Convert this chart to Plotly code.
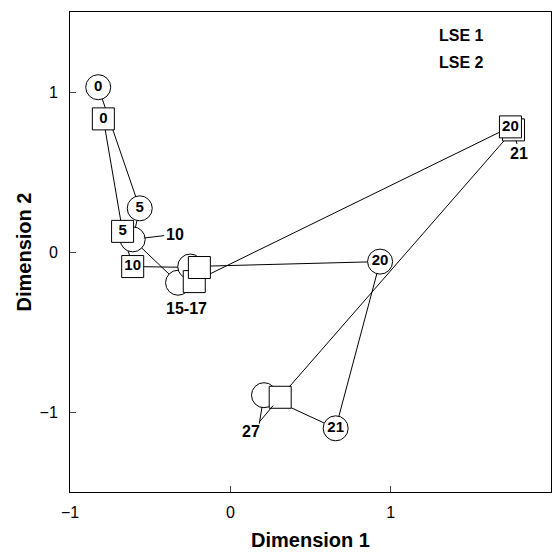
import plotly.graph_objects as go

# LSE 1 (circles) trajectory
c_time = ["0", "5", "10", "15", "17", "20", "21", "27"]
c_x = [-0.824, -0.565, -0.609, -0.326, -0.250, 0.934, 0.657, 0.210]
c_y = [1.030, 0.273, 0.079, -0.192, -0.091, -0.060, -1.102, -0.895]
c_lbl = ["0", "5", "", "", "", "20", "21", ""]

# LSE 2 (squares) trajectory
s_time = ["0", "5", "10", "15", "17", "20", "21", "27"]
s_x = [-0.792, -0.672, -0.609, -0.193, -0.225, 1.747, 1.766, 0.311]
s_y = [0.832, 0.129, -0.091, -0.097, -0.185, 0.782, 0.763, -0.908]
s_lbl = ["0", "5", "10", "", "", "20", "", ""]

FONT = "Liberation Sans, Arial, sans-serif"

fig = go.Figure()

# trajectory lines
fig.add_trace(go.Scatter(x=c_x, y=c_y, mode="lines",
                         line=dict(color="black", width=1), hoverinfo="skip", showlegend=False))
fig.add_trace(go.Scatter(x=s_x, y=s_y, mode="lines",
                         line=dict(color="black", width=1), hoverinfo="skip", showlegend=False))

# markers
fig.add_trace(go.Scatter(x=c_x, y=c_y, mode="markers+text", text=c_lbl,
                         textposition="middle center",
                         textfont=dict(family=FONT, size=15, color="black", weight="bold"),
                         marker=dict(symbol="circle", size=25, color="white",
                                     line=dict(color="black", width=1)),
                         name="LSE 1", showlegend=False))
fig.add_trace(go.Scatter(x=s_x[::-1], y=s_y[::-1], mode="markers+text", text=s_lbl[::-1],
                         textposition="middle center",
                         textfont=dict(family=FONT, size=15, color="black", weight="bold"),
                         marker=dict(symbol="square", size=22, color="white",
                                     line=dict(color="black", width=1)),
                         name="LSE 2", showlegend=False))

ann_font = dict(family=FONT, size=16, color="black", weight="bold")
arrow = dict(showarrow=True, arrowhead=0, arrowwidth=1, arrowcolor="black")
annotations = [
    dict(x=c_x[2], y=c_y[2], text="10", ax=42, ay=-5, standoff=12, font=ann_font, **arrow),
    dict(x=s_x[6], y=s_y[6], text="21", ax=6, ay=24, standoff=11, font=ann_font, **arrow),
    # "27" label with two leader lines
    dict(x=c_x[7], y=c_y[7], text="27", xshift=-13, yshift=-36, showarrow=False, font=ann_font),
    dict(x=c_x[7], y=c_y[7], text="", ax=-5, ay=30, standoff=12, **arrow),
    dict(x=s_x[7], y=s_y[7], text="", ax=-22, ay=26, standoff=11, **arrow),
    dict(x=(c_x[3] + s_x[4]) / 2, y=c_y[3], text="15-17", xanchor="center", yanchor="top",
         yshift=-15, showarrow=False, font=ann_font),
    # legend texts
    dict(x=0.763, y=0.952, xref="paper", yref="paper", text="LSE 1", xanchor="left",
         yanchor="middle", showarrow=False, font=ann_font),
    dict(x=0.763, y=0.894, xref="paper", yref="paper", text="LSE 2", xanchor="left",
         yanchor="middle", showarrow=False, font=ann_font),
]

fig.update_layout(
    width=554, height=557,
    margin=dict(l=70, r=3, t=12, b=65),
    paper_bgcolor="white", plot_bgcolor="white",
    font=dict(family=FONT, size=16, color="black"),
    showlegend=False,
    annotations=annotations,
    xaxis=dict(range=[-1, 2], tickvals=[-1, 0, 1, 2], ticks="inside", ticklen=6,
               showgrid=False, zeroline=False, showline=True, linecolor="black",
               linewidth=1, mirror=True, tickfont=dict(size=16), ticklabelstandoff=6,
               title=dict(text="<b>Dimension 1</b>", font=dict(size=20), standoff=12)),
    yaxis=dict(range=[-1.5, 1.5], tickvals=[-1, 0, 1], ticks="inside", ticklen=6,
               showgrid=False, zeroline=False, showline=True, linecolor="black",
               linewidth=1, mirror=True, tickfont=dict(size=16), ticklabelstandoff=8,
               title=dict(text="<b>Dimension 2</b>", font=dict(size=20), standoff=2)),
)

fig.write_html(
    "out.html",
    config={"displayModeBar": False},
    post_script="document.body.style.margin='0';document.body.style.overflow='hidden';",
)
